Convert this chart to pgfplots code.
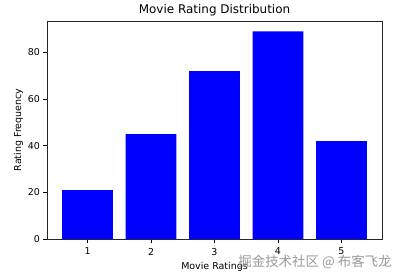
\documentclass[border=0pt]{standalone}
\usepackage{pgfplots}
\pgfplotsset{compat=1.18}
\usepackage{fontspec}
\setmainfont{DejaVu Sans}
\newfontfamily\cjk{Noto Sans CJK SC}
\begin{document}
\begin{tikzpicture}
\begin{axis}[
  scale only axis,
  width=335bp, height=218bp,
  xmin=0.36, xmax=5.64,
  ymin=0, ymax=93.45,
  xtick={1,2,3,4,5},
  ytick={0,20,40,60,80},
  tick align=outside,
  tick pos=left,
  major tick length=3.5bp,
  every tick/.style={black, line width=0.6pt},
  axis line style={line width=0.6pt, black!85},
  tick label style={font=\fontsize{9.5}{11}\selectfont},
  xticklabel style={yshift=-2bp},
  /pgf/number format/assume math mode=true,
  title={Movie Rating Distribution},
  title style={font=\fontsize{12}{14}\selectfont, yshift=-4bp},
  xlabel={Movie Ratings},
  ylabel={Rating Frequency},
  label style={font=\fontsize{9.5}{11}\selectfont},
  xlabel style={yshift=0bp},
  ylabel style={yshift=-2bp},
]
\addplot[ybar, bar width=0.8, fill=blue, draw=none, bar shift=0pt]
  coordinates {(1,21) (2,45) (3,72) (4,89) (5,42)};
\end{axis}
\node[anchor=center, text=black!40, font=\cjk\fontsize{13.5}{15}\selectfont]
  at ([xshift=-67bp,yshift=-23bp]current axis.south east) {掘金技术社区 @ 布客飞龙};
\pgfresetboundingbox
\path ([xshift=-47bp,yshift=-38bp]current axis.south west) rectangle ([xshift=22bp,yshift=21bp]current axis.north east);
\end{tikzpicture}
\end{document}
